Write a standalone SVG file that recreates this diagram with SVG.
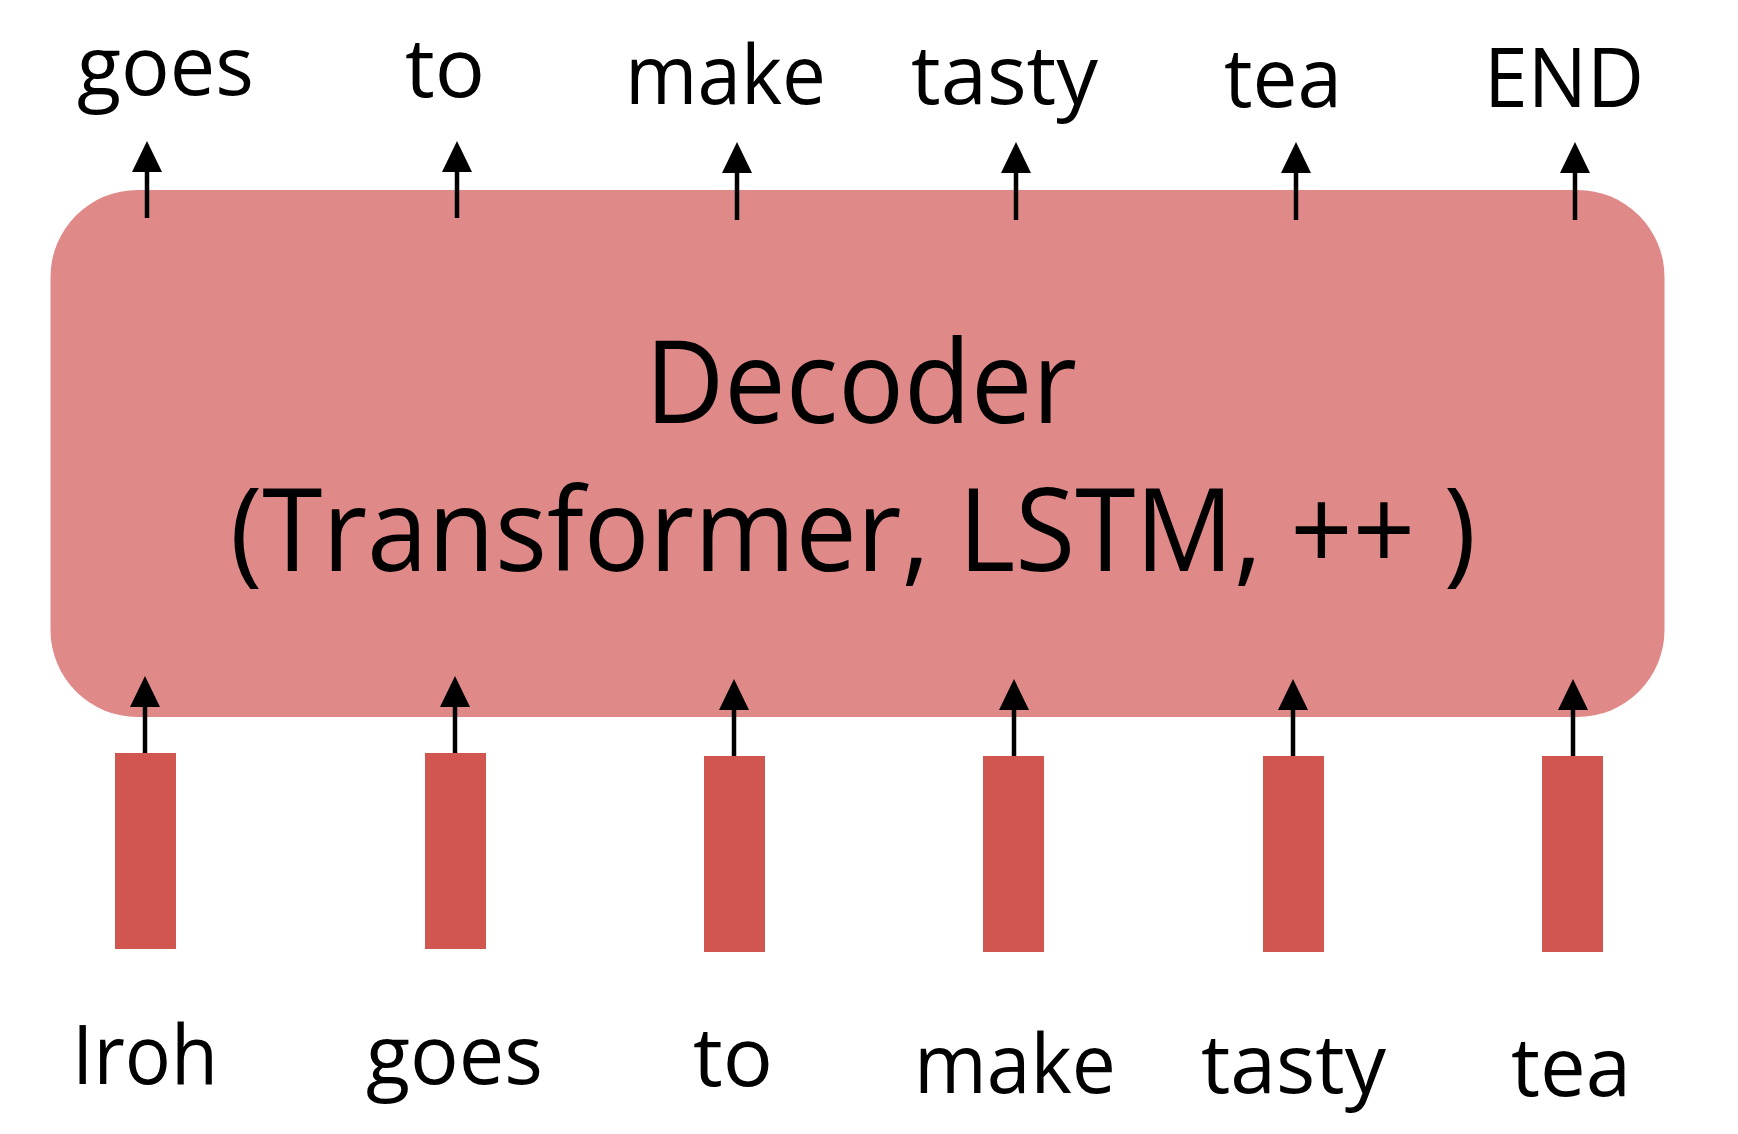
<svg xmlns="http://www.w3.org/2000/svg" width="1738" height="1134" viewBox="0 0 1738 1134">
<defs>
<style>
.lbl{font-family:"Open Sans","Noto Sans","Liberation Sans",sans-serif;font-size:83px;fill:#000}
.big{font-family:"Open Sans","Noto Sans","Liberation Sans",sans-serif;font-size:115px;fill:#000}
.bar{fill:#D25650}
.arr{stroke:#000;stroke-width:4.5;fill:none;marker-end:url(#ah)}
</style>
<marker id="ah" markerUnits="userSpaceOnUse" markerWidth="32" markerHeight="32" viewBox="0 0 32 32" refX="0" refY="16" orient="auto">
<path d="M0,1 L31,16 L0,31 Z" fill="#000"/>
</marker>
</defs>
<rect width="1738" height="1134" fill="#fff"/>
<g id="decoder">
<rect x="50.5" y="190" width="1614" height="527" rx="87" ry="87" fill="#DF8A88"/>
<text class="big" x="645" y="423" textLength="432" lengthAdjust="spacingAndGlyphs">Decoder</text>
<text class="big" x="230" y="571" textLength="1246" lengthAdjust="spacingAndGlyphs">(Transformer, LSTM, ++ )</text>
</g>
<g id="emb1"><rect class="bar" x="115" y="753" width="61" height="196"/><text class="lbl" x="72" y="1084" textLength="146" lengthAdjust="spacingAndGlyphs">Iroh</text></g>
<g id="emb2"><rect class="bar" x="425" y="753" width="61" height="196"/><text class="lbl" x="366" y="1084" textLength="177" lengthAdjust="spacingAndGlyphs">goes</text></g>
<g id="emb3"><rect class="bar" x="704" y="756" width="61" height="196"/><text class="lbl" x="693" y="1086" textLength="80" lengthAdjust="spacingAndGlyphs">to</text></g>
<g id="emb4"><rect class="bar" x="983" y="756" width="61" height="196"/><text class="lbl" x="914" y="1093" textLength="202" lengthAdjust="spacingAndGlyphs">make</text></g>
<g id="emb5"><rect class="bar" x="1263" y="756" width="61" height="196"/><text class="lbl" x="1201" y="1093" textLength="185" lengthAdjust="spacingAndGlyphs">tasty</text></g>
<g id="emb6"><rect class="bar" x="1542" y="756" width="61" height="196"/><text class="lbl" x="1511" y="1096" textLength="120" lengthAdjust="spacingAndGlyphs">tea</text></g>
<g id="out1"><text class="lbl" x="77" y="95" textLength="177" lengthAdjust="spacingAndGlyphs">goes</text></g>
<g id="out2"><text class="lbl" x="405" y="97" textLength="80" lengthAdjust="spacingAndGlyphs">to</text></g>
<g id="out3"><text class="lbl" x="625" y="104" textLength="201" lengthAdjust="spacingAndGlyphs">make</text></g>
<g id="out4"><text class="lbl" x="911" y="104" textLength="187" lengthAdjust="spacingAndGlyphs">tasty</text></g>
<g id="out5"><text class="lbl" x="1224" y="107" textLength="118" lengthAdjust="spacingAndGlyphs">tea</text></g>
<g id="out6"><text class="lbl" x="1484" y="107" textLength="160" lengthAdjust="spacingAndGlyphs">END</text></g>
<g id="connectors">
<line class="arr" x1="147" y1="218" x2="147" y2="172"/>
<line class="arr" x1="457" y1="218" x2="457" y2="172"/>
<line class="arr" x1="737" y1="220" x2="737" y2="173"/>
<line class="arr" x1="1016" y1="220" x2="1016" y2="173"/>
<line class="arr" x1="1296" y1="220" x2="1296" y2="173"/>
<line class="arr" x1="1575" y1="220" x2="1575" y2="173"/>
<line class="arr" x1="145" y1="753" x2="145" y2="707"/>
<line class="arr" x1="455" y1="753" x2="455" y2="707"/>
<line class="arr" x1="734" y1="756" x2="734" y2="710"/>
<line class="arr" x1="1014" y1="756" x2="1014" y2="710"/>
<line class="arr" x1="1293" y1="756" x2="1293" y2="710"/>
<line class="arr" x1="1573" y1="756" x2="1573" y2="710"/>
</g>
</svg>
